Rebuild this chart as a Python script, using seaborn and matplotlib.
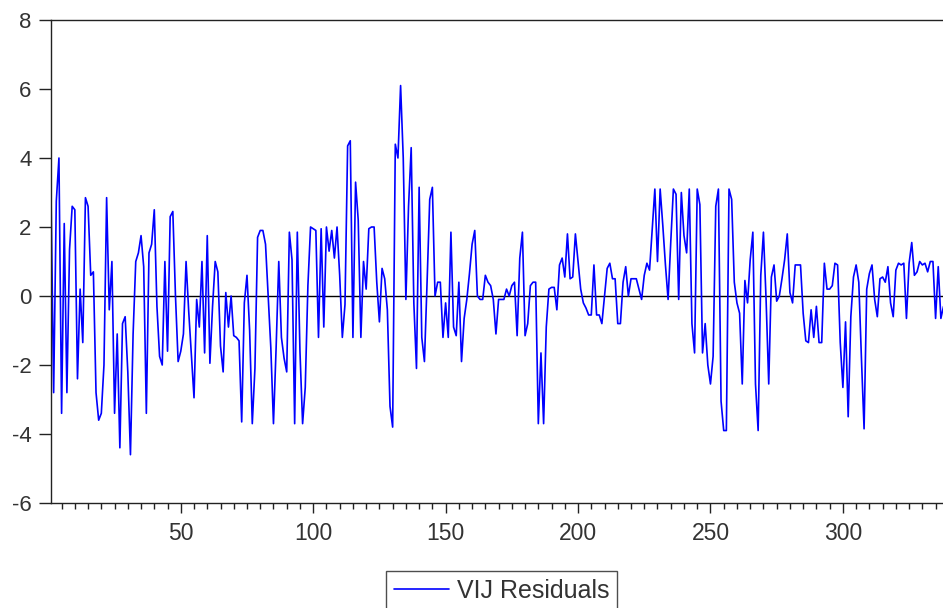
import numpy as np
import pandas as pd
import matplotlib
matplotlib.use("Agg")
import matplotlib.pyplot as plt
from matplotlib.ticker import MultipleLocator
import seaborn as sns

seg1 = [3.0, -2.8, 2.75, 4.0, -3.4, 2.1, -2.8, 1.35, 2.6, 2.5,
        -2.4, 0.2, -1.35, 2.85, 2.6, 0.6, 0.7, -2.8, -3.6, -3.4,
        -2.0, 2.85, -0.4, 1.0, -3.4, -1.1, -4.4, -0.8, -0.6, -2.2,
        -4.6, -1.1, 1.0, 1.25, 1.75, 0.85, -3.4, 1.25]
seg2 = [1.5, 2.5, -0.3, -1.75, -2.0, 1.0, -1.6, 2.3, 2.45, 0.0,
        -1.9, -1.6, -1.1, 1.0, -0.45, -1.7, -2.95, -0.1, -0.9, 1.0,
        -1.65, 1.75, -1.95, -0.3, 1.0, 0.7, -1.45, -2.2, 0.1, -0.9,
        0.0, -1.15, -1.2, -1.3, -3.65, -0.2, 0.6, -1.0]
seg3 = [-3.7, -2.1, 1.7, 1.9, 1.9, 1.5, 0.0, -1.5, -3.7, -1.5,
        1.0, -1.2, -1.8, -2.2, 1.85, 1.05, -3.7, 1.85, -1.6, -3.7,
        -2.65, 0.3, 2.0, 1.95, 1.9, -1.2, 1.95, -0.9, 2.0, 1.3,
        1.9, 1.1, 2.0, 0.6, -1.2, -0.25, 4.35, 4.5]
seg4 = [-1.2, 3.3, 2.2, -1.2, 1.0, 0.2, 1.95, 2.0, 2.0, 0.4,
        -0.75, 0.8, 0.5, -0.4, -3.2, -3.8, 4.4, 4.0, 6.1, 4.0,
        -0.1, 2.6, 4.3, -0.2, -2.1, 3.15, -1.2, -1.9, 0.4, 2.8,
        3.15, 0.0, 0.4, 0.4, -1.2, -0.2, -1.2, 1.85]
seg5 = [-0.9, -1.15, 0.4, -1.9, -0.65, -0.1, 0.65, 1.5, 1.9, 0.0,
        -0.1, -0.1, 0.6, 0.4, 0.3, -0.1, -1.1, -0.1, -0.1, -0.1,
        0.2, 0.0, 0.3, 0.4, -1.15, 1.1, 1.85, -1.15, -0.8, 0.3,
        0.4, 0.4, -3.7, -1.65, -3.7, -0.9, 0.2]
seg6 = [0.25, 0.25, -0.4, 0.9, 1.1, 0.55, 1.8, 0.5, 0.55, 1.8,
        1.0, 0.2, -0.2, -0.35, -0.55, -0.55, 0.9, -0.55, -0.55, -0.8,
        0.0, 0.8, 0.95, 0.5, 0.5, -0.8, -0.8, 0.4, 0.85, 0.0,
        0.5, 0.5, 0.5, 0.2, -0.1, 0.6, 0.95, 0.75]
seg7 = [1.95, 3.1, 1.0, 3.1, 2.05, 0.9, -0.1, 1.55, 3.1, 2.95,
        -0.1, 3.0, 1.75, 1.25, 3.1, -0.8, -1.65, 3.1, 2.65, -1.65,
        -0.8, -2.0, -2.55, -1.75, 2.6, 3.1, -3.05, -3.9, -3.9, 3.1,
        2.8, 0.4, -0.2, -0.5, -2.55, 0.45, -0.2, 1.05]
seg8 = [1.85, -2.55, -3.9, 0.6, 1.85, -0.1, -2.55, 0.55, 0.9, -0.15,
        0.0, 0.5, 1.05, 1.8, 0.1, -0.2, 0.9, 0.9, 0.9, -0.5,
        -1.3, -1.35, -0.4, -1.2, -0.3, -1.35, -1.35, 0.95, 0.2, 0.2,
        0.3, 0.95, 0.9]
seg9 = [-1.35, -2.65, -0.75, -3.5, -0.6, 0.55, 0.9, 0.4, -1.8, -3.85,
        0.2, 0.65, 0.9, -0.1, -0.6, 0.5, 0.55, 0.4, 0.85, -0.2,
        -0.6, 0.75, 0.95, 0.9, 0.95, -0.65, 0.95, 1.55, 0.6, 0.7,
        1.0, 0.9, 0.95, 0.7, 1.0, 1.0, -0.65, 0.85, -0.65, -0.3]

residuals = seg1 + seg2 + seg3 + seg4 + seg5 + seg6 + seg7 + seg8 + seg9
obs = list(range(1, len(residuals) + 1))
series_name = "VIJ Residuals"
y_ticks = [-6, -4, -2, 0, 2, 4, 6, 8]
x_ticks = [50, 100, 150, 200, 250, 300]

df = pd.DataFrame({"obs": obs, "value": residuals})

sns.set_style("white")
plt.rcParams["font.family"] = ["Liberation Sans", "DejaVu Sans"]
plt.rcParams["axes.unicode_minus"] = False

fig = plt.figure(figsize=(9.43, 6.08), dpi=100)
ax = fig.add_axes([51 / 943, 1 - 503 / 608, (943 - 51) / 943, (503 - 20) / 608])

sns.lineplot(data=df, x="obs", y="value", color="#0000FF", linewidth=1.2,
             ax=ax, label=series_name, legend=False)
ax.axhline(0, color="black", linewidth=1.0, zorder=1)

ax.set_xlim(1, 337.8)
ax.set_ylim(-6, 8)
ax.set_yticks(y_ticks)
ax.set_xticks(x_ticks)
ax.xaxis.set_minor_locator(MultipleLocator(5))
ax.set_xlabel("")
ax.set_ylabel("")

txt_color = "#333333"
ax.tick_params(axis="y", which="major", direction="out", length=9, width=1,
               color="#222222", labelsize=16, labelcolor=txt_color, pad=5, left=True)
ax.tick_params(axis="x", which="major", direction="out", length=7, width=1,
               color="#222222", labelsize=16.5, labelcolor=txt_color, pad=7, bottom=True)
ax.tick_params(axis="x", which="minor", direction="out", length=4, width=1,
               color="#222222", bottom=True)

for side in ["left", "top", "bottom"]:
    ax.spines[side].set_color("#222222")
    ax.spines[side].set_linewidth(1.0)
ax.spines["right"].set_visible(False)

handles, labels = ax.get_legend_handles_labels()
leg = fig.legend(handles, labels, loc="upper center", bbox_to_anchor=(0.532, 1 - 571 / 608),
                 frameon=True, fancybox=False, shadow=False, fontsize=18,
                 handlelength=2.2, borderpad=0.3, handletextpad=0.35,
                 borderaxespad=0.0, labelcolor=txt_color)
leg.get_frame().set_edgecolor("#222222")
leg.get_frame().set_linewidth(1.0)
leg.get_frame().set_facecolor("white")

fig.savefig("out.png", dpi=100)
